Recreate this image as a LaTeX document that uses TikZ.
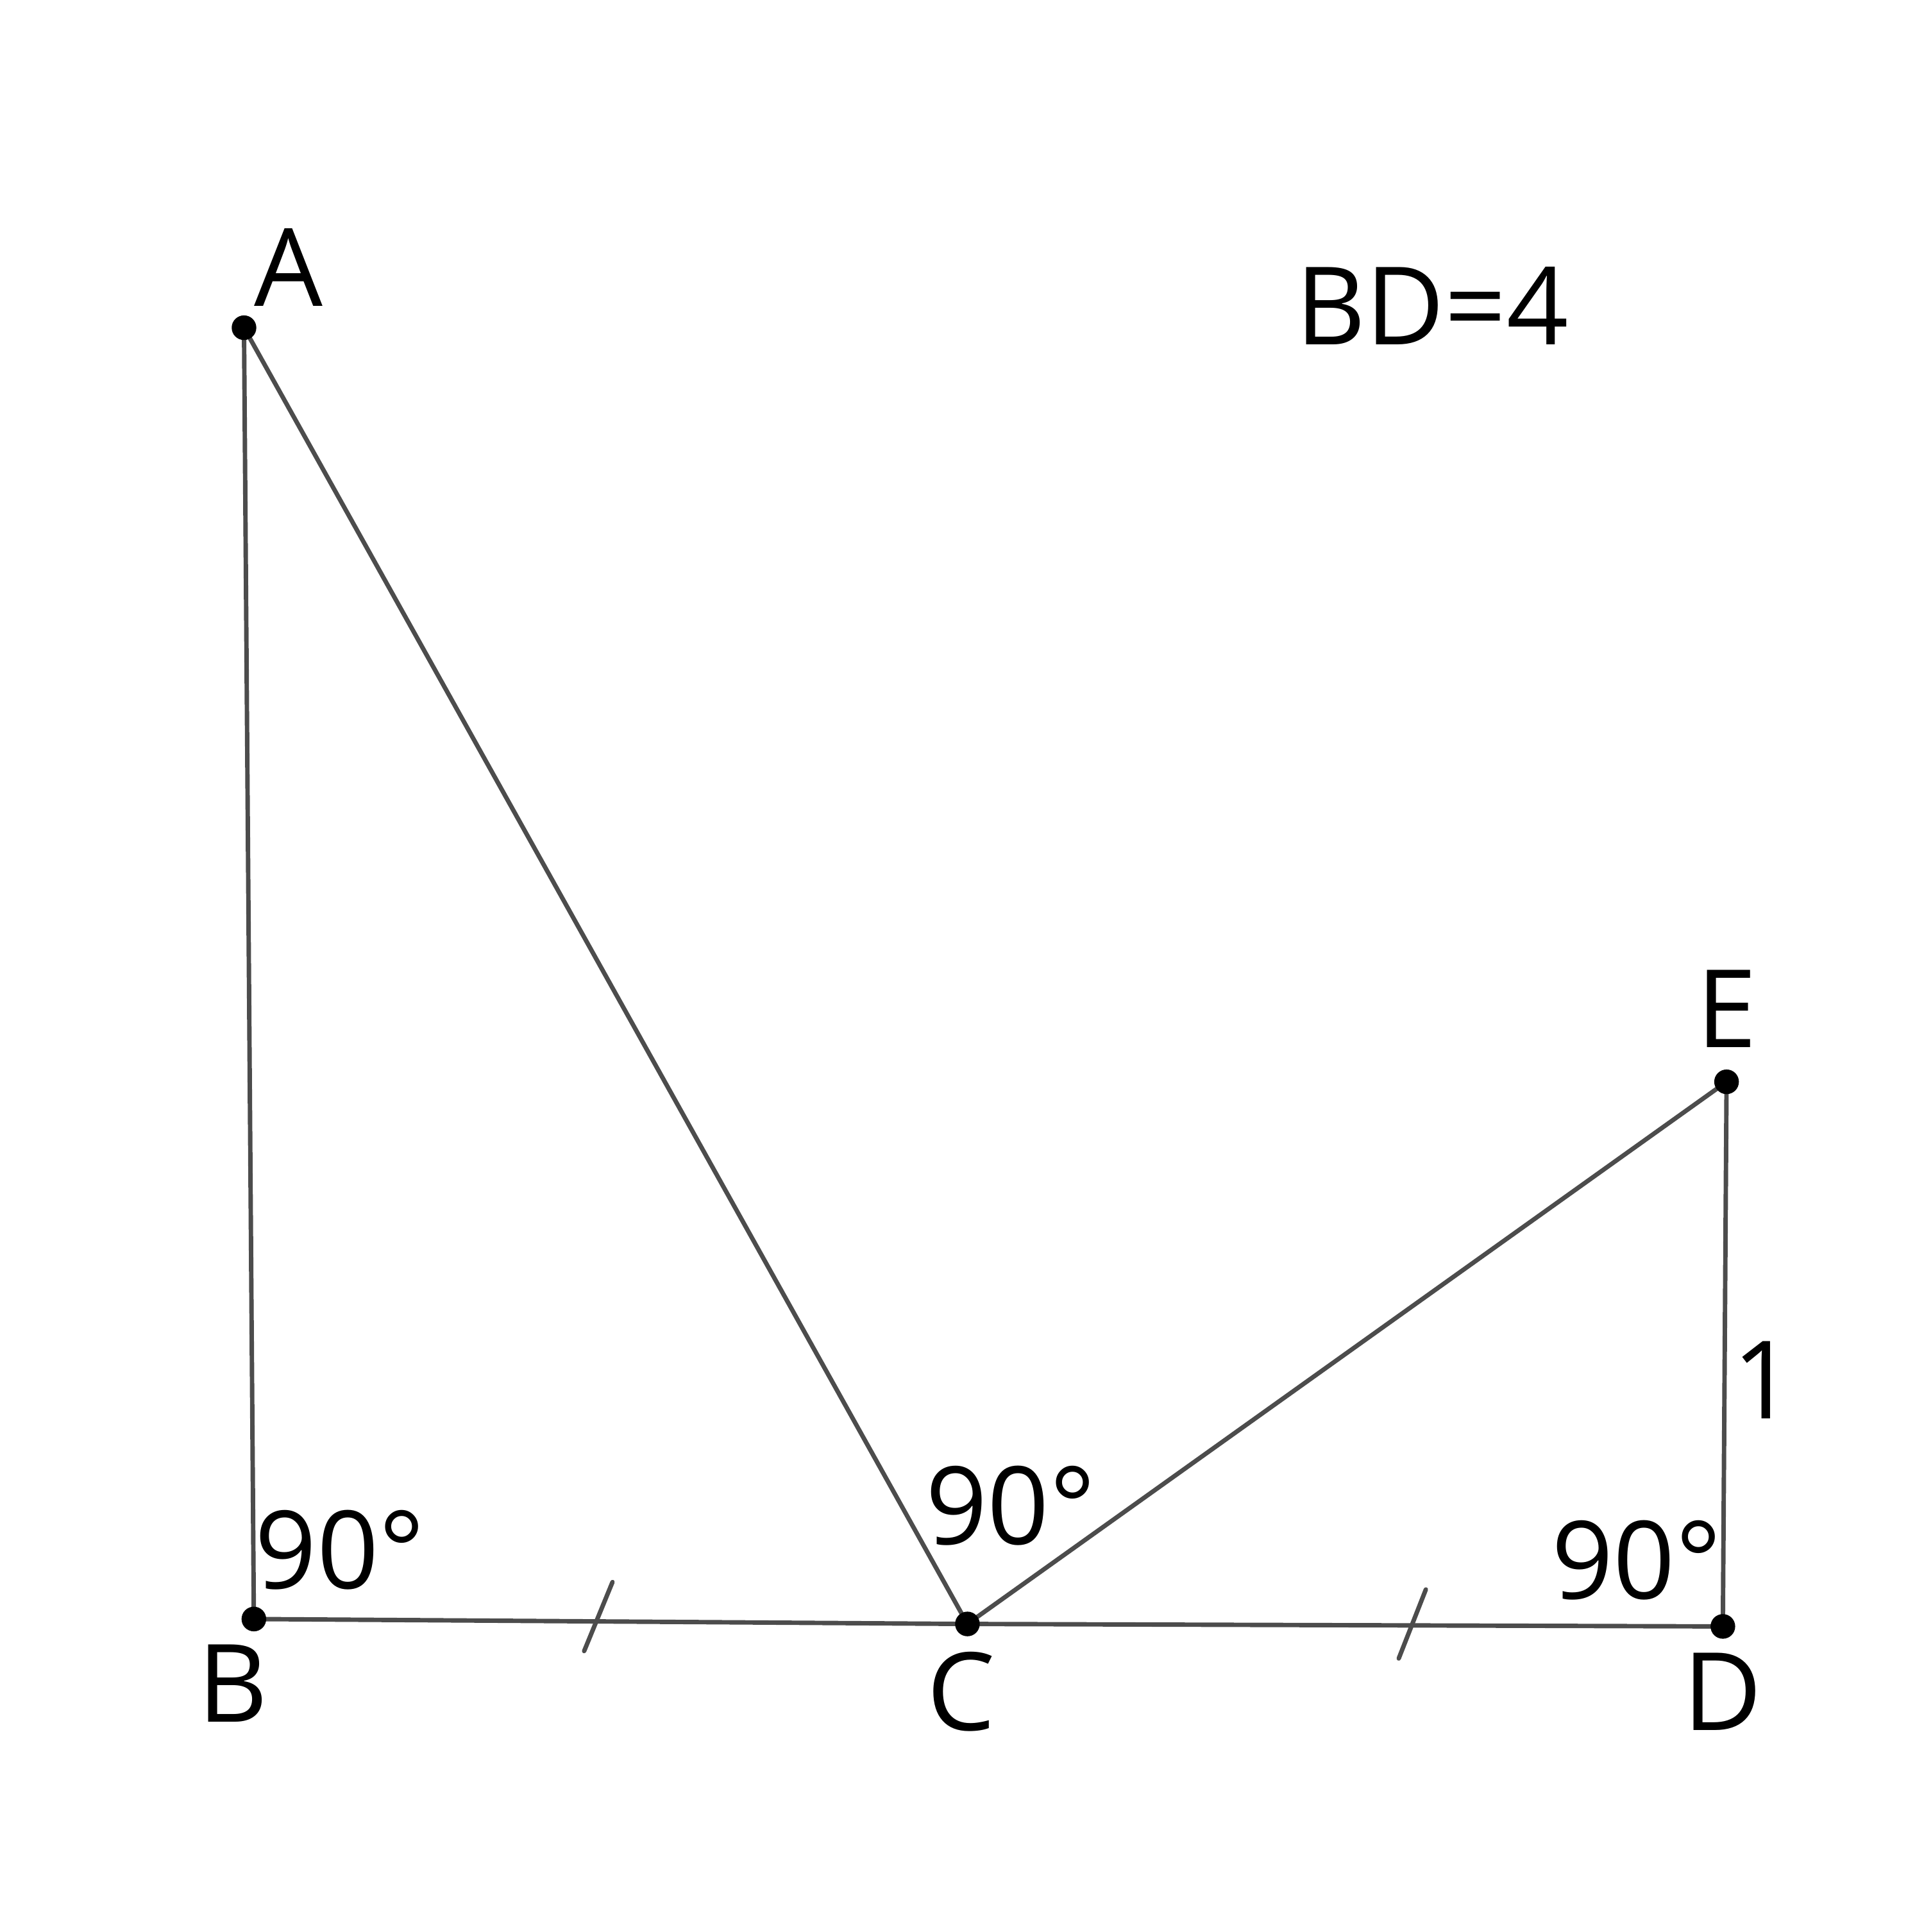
\documentclass[tikz,border=0pt]{standalone}
\usepackage{fontspec}
\setmainfont{Open Sans}
\begin{document}
\begin{tikzpicture}[
every node/.style={inner sep=0pt, font=\fontsize{25}{30}\selectfont},
seg/.style={draw=black!70, line width=0.036cm, line cap=round},
pt/.style={circle, fill=black, minimum size=0.2cm}
]
\useasboundingbox (0,0) rectangle (15.61,15.68);
\coordinate (A) at (1.98,13.02);
\coordinate (B) at (2.06,2.54);
\coordinate (C) at (7.85,2.50);
\coordinate (D) at (13.98,2.48);
\coordinate (E) at (14.01,6.90);
\coordinate (t1a) at (4.74,2.28);
\coordinate (t1b) at (4.97,2.84);
\coordinate (t2a) at (11.35,2.22);
\coordinate (t2b) at (11.57,2.78);

\draw[seg] (A) -- (B) -- (C) -- (D) -- (E) -- (C) -- (A);
\draw[seg] (t1a) -- (t1b);
\draw[seg] (t2a) -- (t2b);

\foreach \p in {A,B,C,D,E} \node[pt] at (\p) {};

\node (labA) at (2.34,13.51) {A};
\node (labB) at (1.89,2.02) {B};
\node (labC) at (7.80,1.95) {C};
\node (labD) at (13.98,1.95) {D};
\node (labE) at (14.01,7.49) {E};
\node (given) at (11.62,13.20) {BD=4};
\node (angB) at (2.76,3.10) {90°};
\node (angC) at (8.20,3.46) {90°};
\node (angD) at (13.28,3.02) {90°};
\node (lenDE) at (14.31,4.48) {1};
\end{tikzpicture}
\end{document}
